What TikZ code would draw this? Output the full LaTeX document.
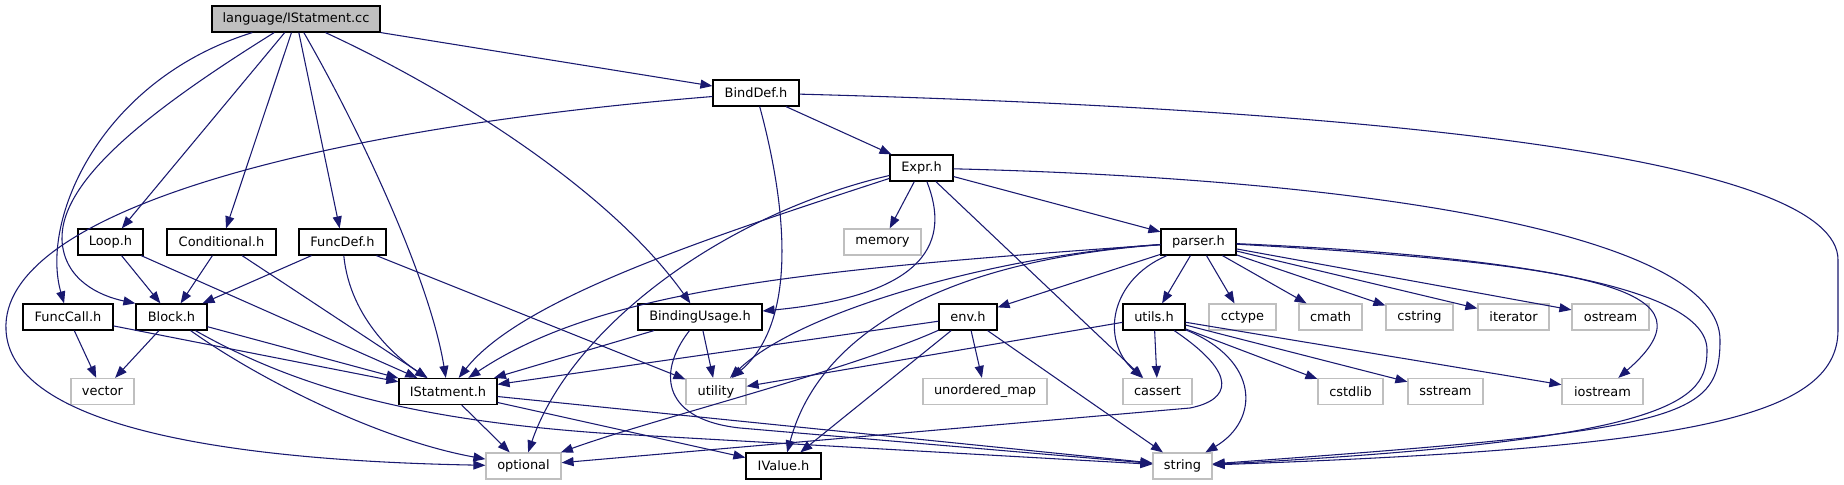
\documentclass[tikz,border=0pt]{standalone}
\usepackage{fontspec}
\setmainfont{DejaVu Sans}
\usetikzlibrary{arrows.meta}
\definecolor{edgeblue}{HTML}{191970}
\definecolor{greyseventyfive}{HTML}{BFBFBF}
\newcommand\dxfont{\fontsize{9.7pt}{11pt}\selectfont}
\tikzset{
  hdr/.style={draw=black, line width=0.9pt, fill=white, minimum height=19.5pt, inner sep=0pt, font=\dxfont},
  sys/.style={draw=greyseventyfive, line width=0.9pt, fill=white, minimum height=19.5pt, inner sep=0pt, font=\dxfont},
  wd/.style={minimum width=#1*0.75pt},
  dep/.style={draw=edgeblue, line width=0.8pt, -{Triangle[length=9pt,width=6.75pt]}},
}
\begin{document}
\begin{tikzpicture}[x=0.75pt,y=-0.75pt]
\useasboundingbox (0,0) rectangle (1844,485);
\fill[white] (0,0) rectangle (1844,485);
% nodes
\node[hdr, fill=greyseventyfive, wd=168] (lang) at (296,19) {language/IStatment.cc};
\node[hdr, wd=86] (binddef) at (756,93) {BindDef.h};
\node[hdr, wd=63] (expr) at (921.5,168) {Expr.h};
\node[hdr, wd=65] (loop) at (110.5,242) {Loop.h};
\node[hdr, wd=109] (cond) at (221.5,242) {Conditional.h};
\node[hdr, wd=87] (funcdef) at (342.5,242) {FuncDef.h};
\node[sys, wd=77] (memory) at (882.5,242) {memory};
\node[hdr, wd=75] (parser) at (1198.5,242) {parser.h};
\node[hdr, wd=90] (funccall) at (68,317) {FuncCall.h};
\node[hdr, wd=71] (block) at (171.5,317) {Block.h};
\node[hdr, wd=124] (bindusage) at (700,317) {BindingUsage.h};
\node[hdr, wd=58] (env) at (968,317) {env.h};
\node[hdr, wd=62] (utils) at (1154,317) {utils.h};
\node[sys, wd=67] (cctype) at (1242.5,317) {cctype};
\node[sys, wd=63] (cmath) at (1330.5,317) {cmath};
\node[sys, wd=67] (cstring) at (1419.5,317) {cstring};
\node[sys, wd=71] (iterator) at (1513.5,317) {iterator};
\node[sys, wd=77] (ostream) at (1610.5,317) {ostream};
\node[sys, wd=63] (vector) at (102.5,391.5) {vector};
\node[hdr, wd=98] (istat) at (448,391.5) {IStatment.h};
\node[sys, wd=60] (utility) at (716,391.5) {utility};
\node[sys, wd=124] (umap) at (985,391.5) {unordered\_map};
\node[sys, wd=69] (cassert) at (1157.5,391.5) {cassert};
\node[sys, wd=65] (cstdlib) at (1350.5,391.5) {cstdlib};
\node[sys, wd=75] (sstream) at (1445.5,391.5) {sstream};
\node[sys, wd=81] (iostream) at (1602.5,391.5) {iostream};
\node[sys, wd=75] (optional) at (523.5,466) {optional};
\node[hdr, wd=75] (ivalue) at (783.5,466) {IValue.h};
\node[sys, wd=59] (string) at (1182.5,466) {string};
% language/IStatment.cc
\draw[dep] (lang) -- (binddef);
\draw[dep] (lang) -- (loop);
\draw[dep] (lang) -- (cond);
\draw[dep] (lang) -- (funcdef);
\draw[dep] (lang) .. controls (100,80) and (40,220) .. (funccall);
\draw[dep] (lang) .. controls (150,110) and (60,180) .. (62,240) .. controls (64,280) and (100,296) .. (block.north west);
\draw[dep] (lang) .. controls (360,130) and (430,280) .. (istat);
\draw[dep] (lang) .. controls (450,90) and (610,190) .. (bindusage);
% BindDef.h
\draw[dep] (binddef) -- (expr);
\draw[dep] (binddef) .. controls (785,200) and (800,320) .. (utility);
\draw[dep] (binddef) .. controls (300,130) and (0,215) .. (6,330) .. controls (10,420) and (200,460) .. (optional);
\draw[dep] (binddef) .. controls (1400,110) and (1838,160) .. (1838,260) -- (1838,330) .. controls (1838,420) and (1680,448) .. (string);
% Expr.h
\draw[dep] (expr) -- (memory);
\draw[dep] (expr) -- (parser);
\draw[dep] (expr) -- (cassert);
\draw[dep] (expr) .. controls (950,240) and (930,295) .. (bindusage);
\draw[dep] (expr) .. controls (700,240) and (520,300) .. (istat);
\draw[dep] (expr) .. controls (720,215) and (570,330) .. (optional);
\draw[dep] (expr) .. controls (1400,180) and (1720,240) .. (1720,340) .. controls (1720,420) and (1680,430) .. (string);
% parser.h
\draw[dep] (parser) .. controls (800,270) and (600,290) .. (istat);
\draw[dep] (parser) .. controls (1000,255) and (800,310) .. (utility);
\draw[dep] (parser) .. controls (950,260) and (820,330) .. (ivalue);
\draw[dep] (parser) -- (env);
\draw[dep] (parser) -- (utils);
\draw[dep] (parser) .. controls (1110,280) and (1100,340) .. (cassert);
\draw[dep] (parser) -- (cctype);
\draw[dep] (parser) -- (cmath);
\draw[dep] (parser) -- (cstring);
\draw[dep] (parser) -- (iterator);
\draw[dep] (parser) -- (ostream);
\draw[dep] (parser) .. controls (1600,265) and (1720,290) .. (iostream);
\draw[dep] (parser) .. controls (1500,255) and (1707,285) .. (1707,350) .. controls (1707,400) and (1680,440) .. (string);
% env.h
\draw[dep] (env) -- (istat);
\draw[dep] (env) .. controls (850,370) and (650,420) .. (optional);
\draw[dep] (env) -- (ivalue);
\draw[dep] (env) -- (umap);
\draw[dep] (env) -- (string);
% utils.h
\draw[dep] (utils) -- (utility);
\draw[dep] (utils) -- (cassert);
\draw[dep] (utils) -- (cstdlib);
\draw[dep] (utils) -- (sstream);
\draw[dep] (utils) -- (iostream);
\draw[dep] (utils) .. controls (1260,360) and (1260,420) .. (string);
\draw[dep] (utils) .. controls (1240,375) and (1230,400) .. (1190,408) -- (optional);
% BindingUsage.h
\draw[dep] (bindusage) -- (istat);
\draw[dep] (bindusage) -- (utility);
\draw[dep] (bindusage) .. controls (655,375) and (665,420) .. (740,428) -- (string);
% IStatment.h
\draw[dep] (istat) -- (optional);
\draw[dep] (istat) -- (ivalue);
\draw[dep] (istat) -- (string);
% Block.h
\draw[dep] (block) -- (vector);
\draw[dep] (block) -- (istat);
\draw[dep] (block) .. controls (260,380) and (380,440) .. (optional);
\draw[dep] (block) .. controls (300,390) and (420,420) .. (600,433) -- (string);
% FuncCall.h
\draw[dep] (funccall) -- (vector);
\draw[dep] (funccall) -- (istat);
% Loop.h, Conditional.h, FuncDef.h
\draw[dep] (loop) -- (block);
\draw[dep] (loop) -- (istat);
\draw[dep] (cond) -- (block);
\draw[dep] (cond) -- (istat);
\draw[dep] (funcdef) -- (block);
\draw[dep] (funcdef) .. controls (350,320) and (400,360) .. (istat);
\draw[dep] (funcdef) -- (utility);
\end{tikzpicture}
\end{document}
